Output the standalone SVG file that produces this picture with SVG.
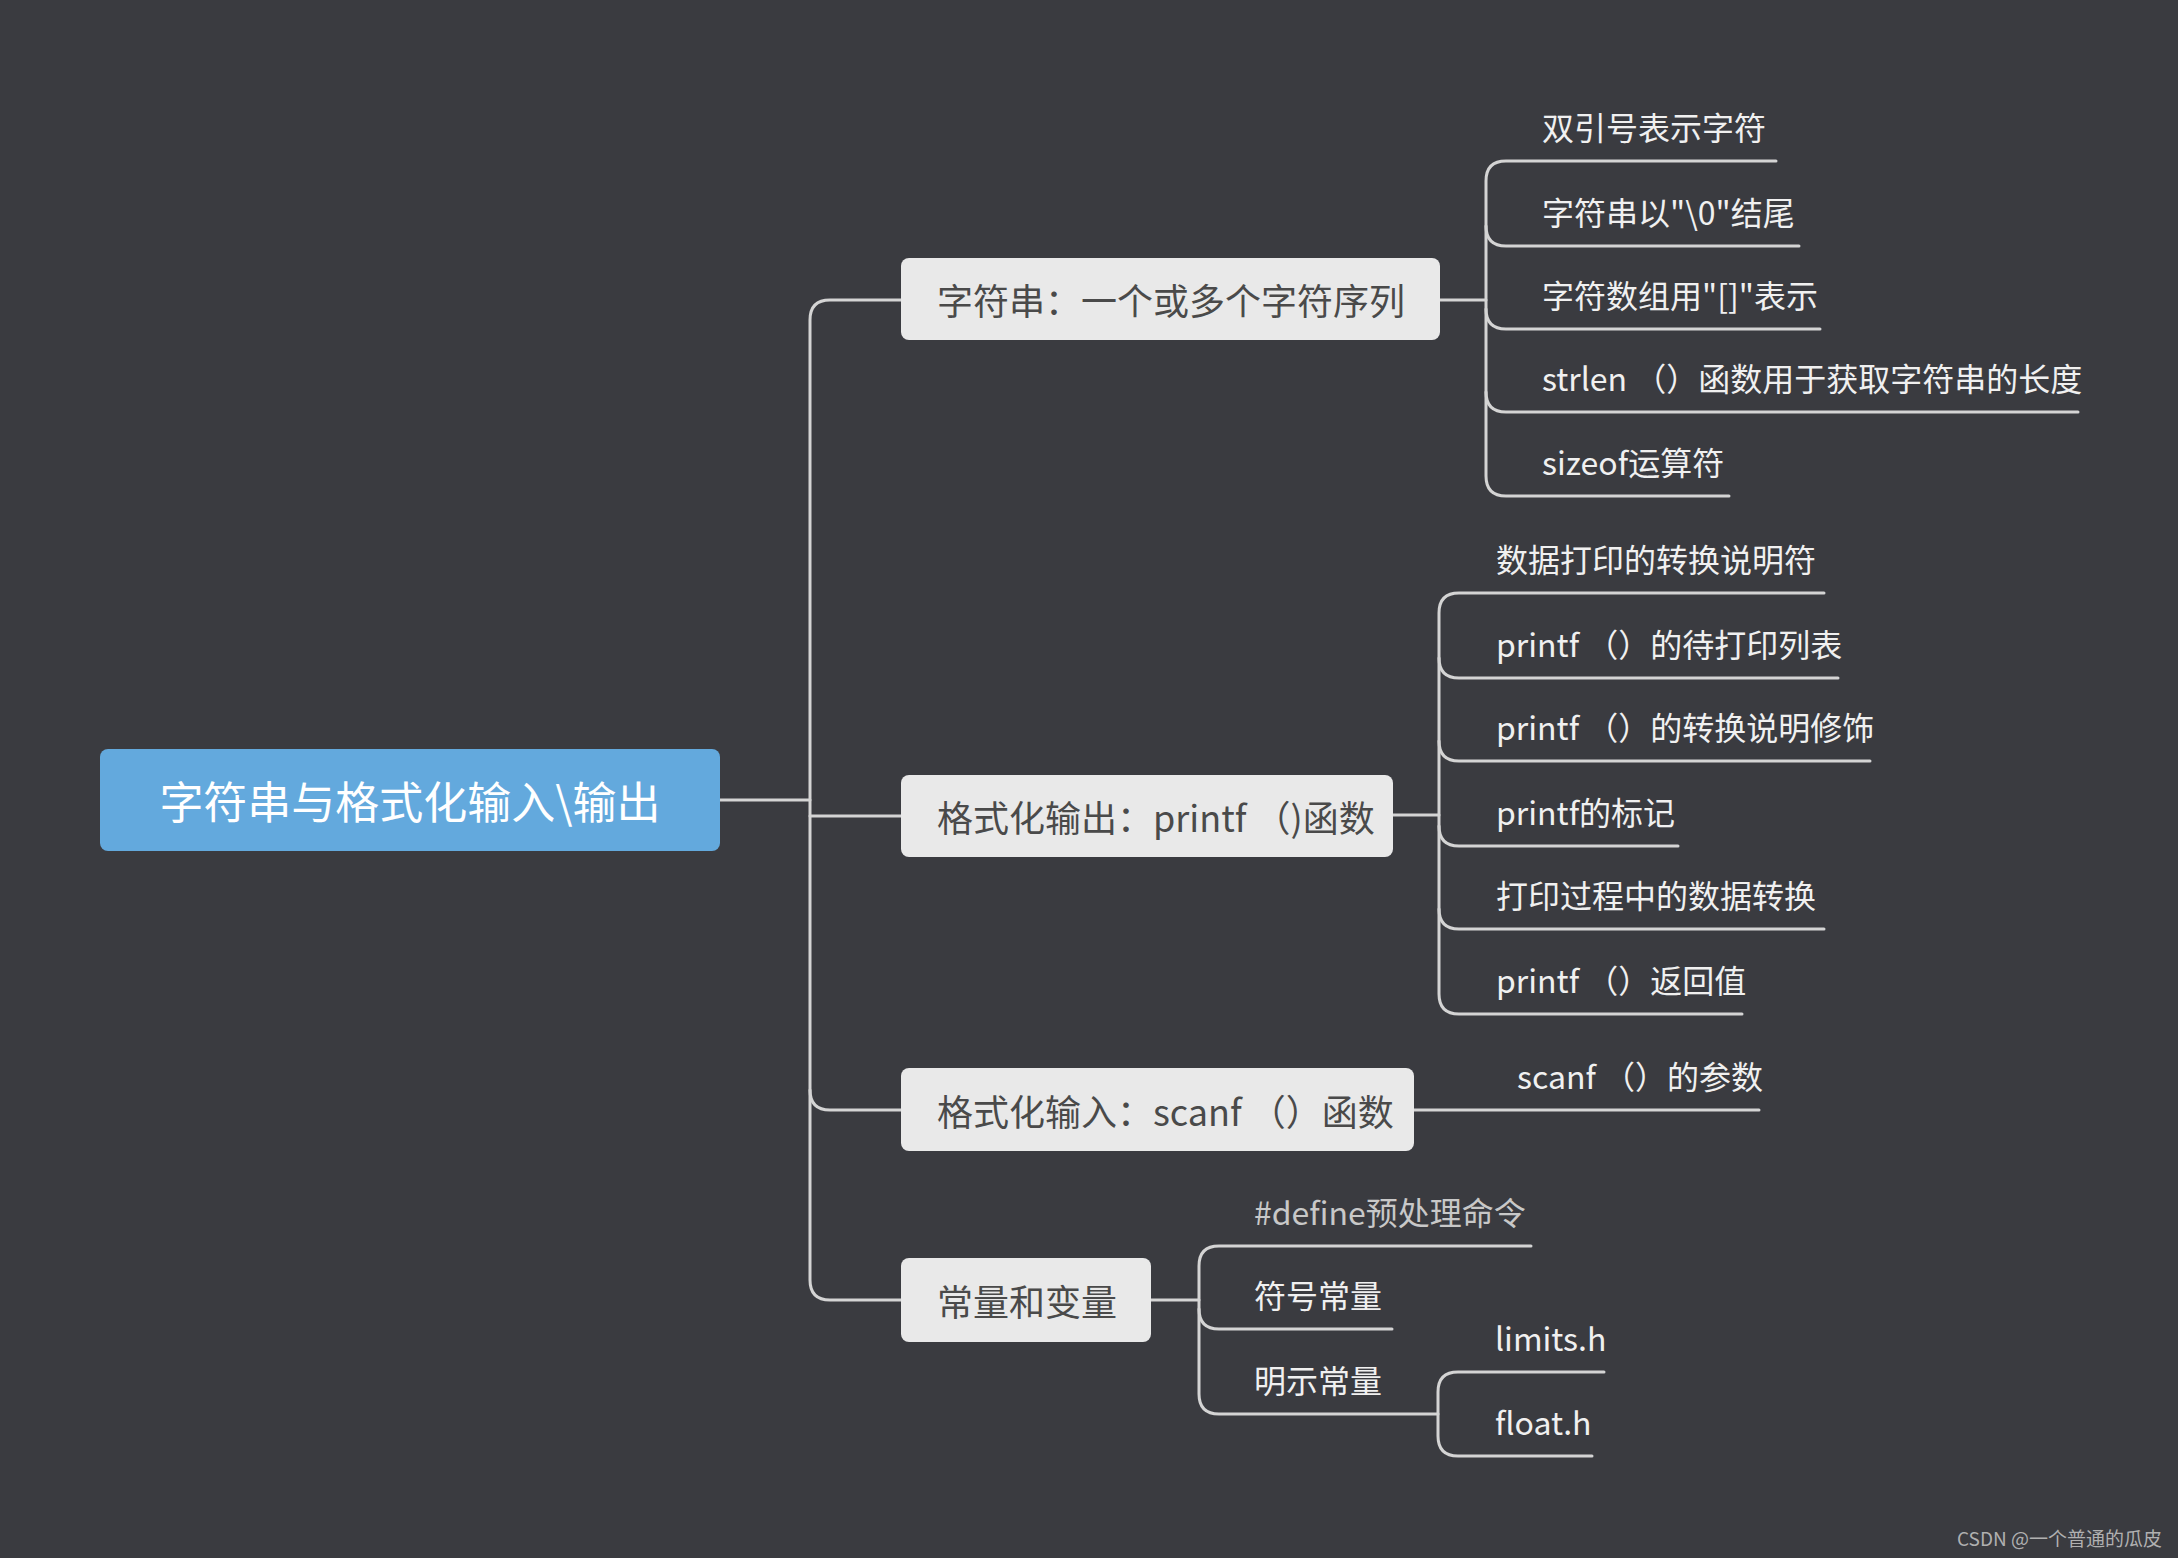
<svg xmlns="http://www.w3.org/2000/svg" width="2178" height="1558" viewBox="0 0 2178 1558">
<style>
.ln{fill:none;stroke:#d4d4d4;stroke-width:3;stroke-linecap:round}
.box{fill:#e9e9e9}
.bt{font-family:"Noto Sans CJK SC","Noto Sans",sans-serif;font-size:36px;fill:#4a4a4a;dominant-baseline:central}
.lf{font-family:"Noto Sans CJK SC","Noto Sans",sans-serif;font-size:32px;fill:#f0f0f0}
</style>
<rect width="2178" height="1558" fill="#3a3b40"/>
<g id="connectors">
<path class="ln" d="M720,800 H810"/>
<path class="ln" d="M901,300 H830 Q810,300 810,320 V1280 Q810,1300 830,1300 H901"/>
<path class="ln" d="M810,816 H901 M810,1090 Q810,1110 830,1110 H901"/>
<path class="ln" d="M1440,300 H1486"/>
<path class="ln" d="M1776,161 H1506 Q1486,161 1486,181 V476 Q1486,496 1506,496 H1729"/>
<path class="ln" d="M1486,226 Q1486,246 1506,246 H1799 M1486,309 Q1486,329 1506,329 H1820 M1486,392 Q1486,412 1506,412 H2078"/>
<path class="ln" d="M1393,815 H1439"/>
<path class="ln" d="M1824,593 H1459 Q1439,593 1439,613 V994 Q1439,1014 1459,1014 H1742"/>
<path class="ln" d="M1439,658 Q1439,678 1459,678 H1838 M1439,741 Q1439,761 1459,761 H1870 M1439,826 Q1439,846 1459,846 H1678 M1439,909 Q1439,929 1459,929 H1824"/>
<path class="ln" d="M1414,1110 H1759"/>
<path class="ln" d="M1151,1300 H1199"/>
<path class="ln" d="M1531,1246 H1219 Q1199,1246 1199,1266 V1394 Q1199,1414 1219,1414 H1438"/>
<path class="ln" d="M1199,1309 Q1199,1329 1219,1329 H1392"/>
<path class="ln" d="M1604,1372 H1458 Q1438,1372 1438,1392 V1436 Q1438,1456 1458,1456 H1592"/>
</g>
<g id="root"><rect x="100" y="749" width="620" height="102" rx="8" fill="#63a9dd"/>
<text x="410" y="800" text-anchor="middle" dominant-baseline="central" font-family="Noto Sans CJK SC,Noto Sans,sans-serif" font-size="44" fill="#ffffff">字符串与格式化输入\输出</text></g>
<g id="n1"><rect class="box" x="901" y="258" width="539" height="82" rx="8"/><text class="bt" x="937" y="299">字符串：一个或多个字符序列</text></g>
<g id="n2"><rect class="box" x="901" y="775" width="492" height="82" rx="8"/><text class="bt" x="937" y="816">格式化输出：printf （)函数</text></g>
<g id="n3"><rect class="box" x="901" y="1068" width="513" height="83" rx="8"/><text class="bt" x="937" y="1110">格式化输入：scanf （）函数</text></g>
<g id="n4"><rect class="box" x="901" y="1258" width="250" height="84" rx="8"/><text class="bt" x="937" y="1300">常量和变量</text></g>
<g id="leaves1">
<text class="lf" x="1542" y="140">双引号表示字符</text>
<text class="lf" x="1542" y="225">字符串以"\0"结尾</text>
<text class="lf" x="1542" y="308">字符数组用"[]"表示</text>
<text class="lf" x="1542" y="391">strlen （）函数用于获取字符串的长度</text>
<text class="lf" x="1542" y="475">sizeof运算符</text>
</g>
<g id="leaves2">
<text class="lf" x="1496" y="572">数据打印的转换说明符</text>
<text class="lf" x="1496" y="657">printf （）的待打印列表</text>
<text class="lf" x="1496" y="740">printf （）的转换说明修饰</text>
<text class="lf" x="1496" y="825">printf的标记</text>
<text class="lf" x="1496" y="908">打印过程中的数据转换</text>
<text class="lf" x="1496" y="993">printf （）返回值</text>
</g>
<g id="leaves3"><text class="lf" x="1517" y="1089">scanf （）的参数</text></g>
<g id="leaves4">
<text class="lf" x="1254" y="1225" fill="#c8c8c8" style="fill:#c8c8c8">#define预处理命令</text>
<text class="lf" x="1254" y="1308">符号常量</text>
<text class="lf" x="1254" y="1393">明示常量</text>
<text class="lf" x="1495" y="1351">limits.h</text>
<text class="lf" x="1495" y="1435">float.h</text>
</g>
<text x="2162" y="1546" text-anchor="end" font-family="Noto Sans CJK SC,Noto Sans,sans-serif" font-size="19" fill="#b0b0b0">CSDN @一个普通的瓜皮</text>
</svg>
